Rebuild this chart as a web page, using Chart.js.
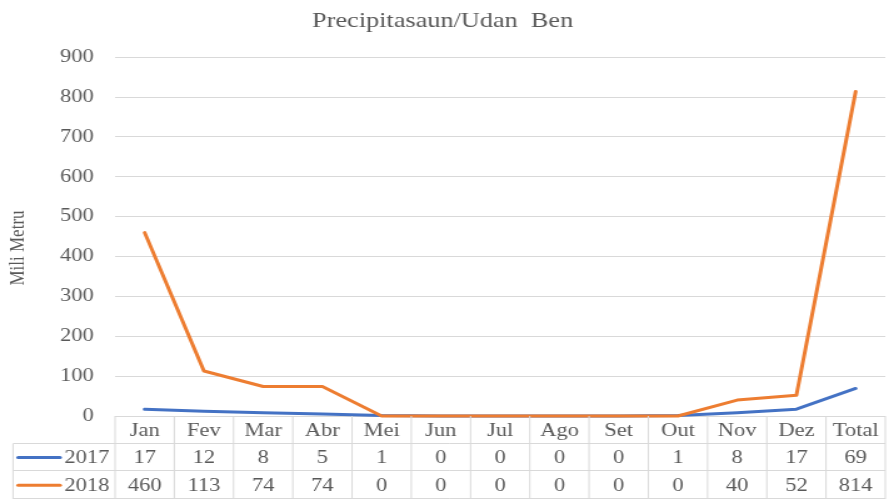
<!DOCTYPE html>
<html>
<head>
<meta charset="utf-8">
<script src="https://cdn.jsdelivr.net/npm/chart.js@4"></script>
<style>
  body { margin: 0; background: #fff; }
  #wrap { width: 889px; height: 499px; overflow: hidden; }
  /* the source image is stretched sideways, so the canvas is too */
  #c { transform: scaleX(1.2504); transform-origin: 0 0; }
</style>
</head>
<body>
<div id="wrap"><canvas id="c" width="711" height="499"></canvas></div>
<script>
// data
const meses = ['Jan', 'Fev', 'Mar', 'Abr', 'Mei', 'Jun', 'Jul', 'Ago', 'Set', 'Out', 'Nov', 'Dez', 'Total'];
const anos = ['2017', '2018'];
const chuva2017 = [17, 12, 8, 5, 1, 0, 0, 0, 0, 1, 8, 17, 69];
const chuva2018 = [460, 113, 74, 74, 0, 0, 0, 0, 0, 0, 40, 52, 814];
const yTicks = [0, 100, 200, 300, 400, 500, 600, 700, 800, 900];

const cores = ['#4472C4', '#ED7D31'];
const cinza = '#595959';
const linhaGrade = '#d9d9d9';
const fonte = 'Liberation Serif, Times New Roman, serif';

// tabela de dados desenhada por baixo do gráfico + título do eixo y
const tabelaPlugin = {
  id: 'tabelaDados',
  afterDraw(chart) {
    const ctx = chart.ctx;
    const xs = chart.scales.x;
    const area = chart.chartArea;
    const w = (area.right - area.left) / meses.length;
    const topo = area.bottom;
    const rowH = 27.7;
    const esq = 10.4;
    const linhas = [chuva2017, chuva2018];

    ctx.save();
    ctx.strokeStyle = linhaGrade;
    ctx.lineWidth = 1;
    ctx.beginPath();
    // horizontais
    for (let r = 1; r <= 3; r++) {
      const y = Math.round(topo + r * rowH) - 0.5;
      ctx.moveTo(esq, y);
      ctx.lineTo(area.right, y);
    }
    // verticais
    for (let i = 0; i <= meses.length; i++) {
      const x = area.left + i * w;
      ctx.moveTo(x, topo);
      ctx.lineTo(x, topo + 3 * rowH);
    }
    ctx.moveTo(esq, topo + rowH);
    ctx.lineTo(esq, topo + 3 * rowH);
    ctx.stroke();

    ctx.fillStyle = cinza;
    ctx.font = '18px ' + fonte;
    ctx.textAlign = 'center';
    ctx.textBaseline = 'middle';
    meses.forEach((m, i) => {
      const x = xs.getPixelForValue(i);
      ctx.fillText(m, x, topo + rowH * 0.5 + 1);
      linhas.forEach((serie, r) => {
        ctx.fillText(String(serie[i]), x, topo + rowH * (r + 1.5) + 1);
      });
    });

    // legenda em cada linha
    anos.forEach((ano, r) => {
      const y = topo + rowH * (r + 1.5);
      ctx.strokeStyle = cores[r];
      ctx.lineWidth = 3;
      ctx.lineCap = 'round';
      ctx.beginPath();
      ctx.moveTo(14.5, y);
      ctx.lineTo(48, y);
      ctx.stroke();
      ctx.fillStyle = cinza;
      ctx.textAlign = 'right';
      ctx.fillText(ano, 87.5, y + 1);
    });

    // título do eixo y (um pouco abaixo do centro, como no original)
    ctx.translate(14.5, 248);
    ctx.rotate(-Math.PI / 2);
    ctx.font = '17px ' + fonte;
    ctx.textAlign = 'center';
    ctx.fillStyle = cinza;
    ctx.fillText('Mili Metru', 0, 0);
    ctx.restore();
  }
};

new Chart(document.getElementById('c'), {
  type: 'line',
  data: {
    labels: meses,
    datasets: [
      { label: anos[0], data: chuva2017, borderColor: cores[0], order: 1 },
      { label: anos[1], data: chuva2018, borderColor: cores[1], order: 0 }
    ]
  },
  options: {
    responsive: false,
    animation: false,
    layout: { padding: { left: 0, right: 3, top: 0, bottom: 83 } },
    elements: {
      line: { borderWidth: 3, tension: 0, borderCapStyle: 'round', borderJoinStyle: 'round' },
      point: { radius: 0, hoverRadius: 0 }
    },
    datasets: { line: { clip: false } },
    plugins: {
      legend: { display: false },
      tooltip: { enabled: false },
      title: {
        display: true,
        text: 'Precipitasaun/Udan  Ben',
        color: cinza,
        font: { family: fonte, size: 21, weight: 'normal' },
        padding: { top: 9, bottom: 23 }
      }
    },
    scales: {
      x: {
        display: false,
        offset: true
      },
      y: {
        min: 0,
        max: 900,
        afterFit: (s) => { s.width = 92; },
        afterBuildTicks: (s) => { s.ticks = yTicks.map(v => ({ value: v })); },
        grid: { color: linhaGrade, drawTicks: false },
        border: { display: false },
        ticks: {
          color: cinza,
          padding: 17,
          font: { family: fonte, size: 18 }
        },
        title: { display: false }
      }
    }
  },
  plugins: [tabelaPlugin]
});
</script>
</body>
</html>
